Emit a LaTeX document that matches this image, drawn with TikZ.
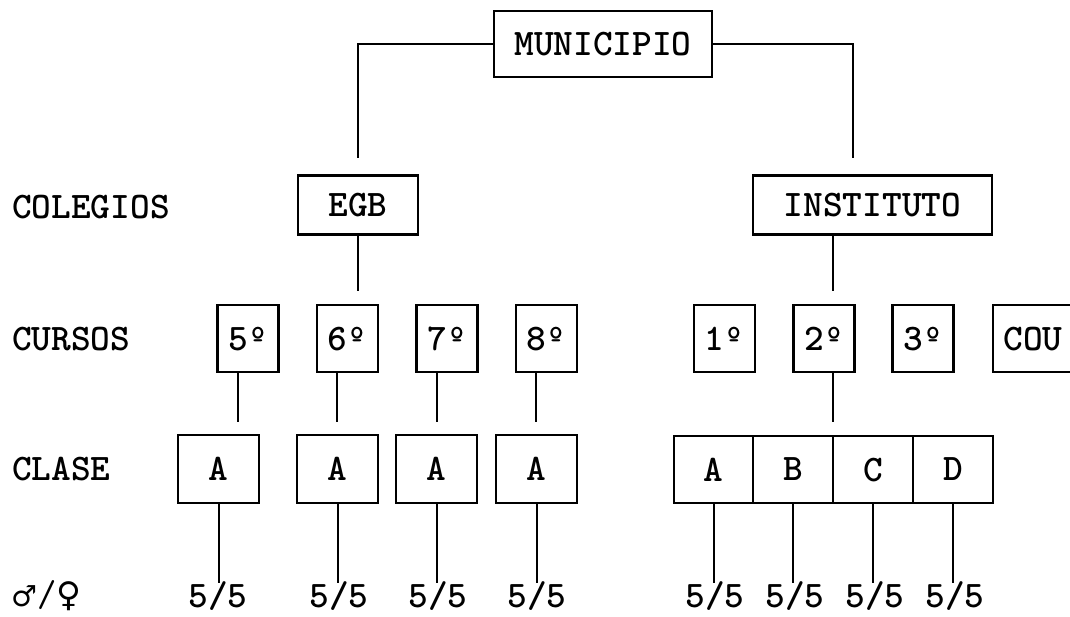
\documentclass[tikz,border=0pt]{standalone}
\usepackage{fontspec}
\newfontfamily\symf{DejaVu Sans}
\newcommand\fsz{\fontsize{37.5}{44}\selectfont}
\begin{document}
\begin{tikzpicture}[x=1pt,y=-1pt,
  box/.style={draw,line width=2.2pt,inner sep=0pt,text depth=0pt,font=\ttfamily\bfseries\fsz},
  curso/.style={box,minimum width=61pt,minimum height=67pt},
  clase/.style={box,minimum width=81pt,minimum height=68pt},
  clasen/.style={box,minimum width=80pt,minimum height=67pt},
  lbl/.style={inner sep=0pt,anchor=west,font=\ttfamily\bfseries\fsz},
  num/.style={inner sep=0pt,font=\ttfamily\bfseries\fsz},
  ln/.style={line width=2pt}]
\useasboundingbox (0,0) rectangle (1070,616);
% top
\node[box,minimum width=218pt,minimum height=66pt] (mun) at (603,44) {MUNICIPIO};
\node[box,minimum width=120pt,minimum height=59pt] (egb) at (358,205) {EGB};
\node[box,minimum width=239pt,minimum height=59pt] (inst) at (872.5,205) {INSTITUTO};
\coordinate (bl) at (358,158);
\coordinate (br) at (853,158);
\draw[ln] (mun.west) -| (bl);
\draw[ln] (mun.east) -| (br);
% labels
\node[lbl] (lcol) at (12,207) {COLEGIOS};
\node[lbl] (lcur) at (12,339) {CURSOS};
\node[lbl] (lcla) at (12,469) {CLASE};
\node[inner sep=0pt,anchor=west,font=\symf\fontsize{29}{32}\selectfont] (lsex) at (11,596) {♂\ttfamily\fsz/\symf\fontsize{34}{36}\selectfont♀};
% cursos
\node[curso] (c5) at (248,338.5) {5º};
\node[curso] (c6) at (347.5,338.5) {6º};
\node[curso] (c7) at (447,338.5) {7º};
\node[curso] (c8) at (546.5,338.5) {8º};
\node[curso] (c1) at (724.5,338.5) {1º};
\node[curso] (c2) at (824,338.5) {2º};
\node[curso] (c3) at (923,338.5) {3º};
\node[box,minimum width=80pt,minimum height=67pt] (cou) at (1033,338.5) {COU};
\draw[ln] (egb.south) -- ++(0,55);
\draw[ln] ([xshift=-39.5pt]inst.south) -- ++(0,55);
% clases
\node[clase] (a1) at (218.5,469) {A};
\node[clase] (a2) at (337.5,469) {A};
\node[clase] (a3) at (436.5,469) {A};
\node[clase] (a4) at (536.5,469) {A};
\node[clasen,minimum width=79pt] (cA) at (713.5,469.5) {A};
\node[clasen] (cB) at (793,469.5) {B};
\node[clasen] (cC) at (873,469.5) {C};
\node[clasen] (cD) at (953,469.5) {D};
\draw[ln] ([xshift=-10pt]c5.south) -- ++(0,49);
\draw[ln] ([xshift=-10.5pt]c6.south) -- ++(0,49);
\draw[ln] ([xshift=-10pt]c7.south) -- ++(0,49);
\draw[ln] ([xshift=-10.5pt]c8.south) -- ++(0,49);
\draw[ln] ([xshift=9pt]c2.south) -- ++(0,49);
% numbers
\node[num] (t1) at (218,596) {5/5};
\node[num] (t2) at (339,596) {5/5};
\node[num] (t3) at (438,596) {5/5};
\node[num] (t4) at (537,596) {5/5};
\node[num] (t5) at (715,596) {5/5};
\node[num] (t6) at (795,596) {5/5};
\node[num] (t7) at (875,596) {5/5};
\node[num] (t8) at (955,596) {5/5};
\foreach \b in {a1,a2,a3,a4,cA,cB,cC,cD}
  \draw[ln] (\b.south) -- ++(0,79);
\end{tikzpicture}
\end{document}
